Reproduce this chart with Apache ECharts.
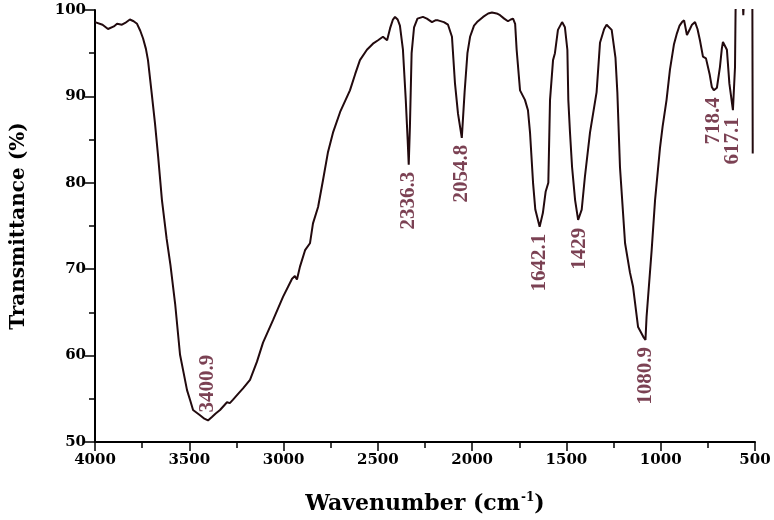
<!DOCTYPE html>
<html>
<head>
<meta charset="utf-8">
<script src="https://cdn.jsdelivr.net/npm/echarts@6/dist/echarts.min.js"></script>
<style>
  html, body { margin: 0; padding: 0; background: #fff; }
  #chart { width: 774px; height: 520px; }
</style>
</head>
<body>
<div id="chart"></div>
<script>
// FTIR spectrum (wavenumber in cm-1, transmittance in %)
const wavenumbers = [
  4000, 3960, 3931, 3900, 3883, 3857, 3840, 3815, 3795, 3777, 3760, 3745, 3730, 3719,
  3700, 3682, 3665, 3645, 3620, 3600, 3575, 3549, 3530, 3512, 3495, 3480, 3443, 3420,
  3400.9, 3380, 3360, 3337, 3300, 3285, 3268, 3240, 3215, 3178, 3141, 3109, 3056, 3003,
  2955, 2940, 2929, 2913, 2886, 2860, 2844, 2817, 2791, 2765, 2738, 2700, 2648, 2620,
  2595, 2558, 2526, 2499, 2473, 2451, 2435, 2420, 2409, 2395, 2383, 2367, 2352, 2342,
  2336.3, 2330, 2321, 2308, 2290, 2261, 2240, 2213, 2195, 2181, 2150, 2128, 2107, 2091,
  2075, 2054.8, 2040, 2025, 2011, 1990, 1974, 1942, 1915, 1895, 1870, 1852, 1830, 1810,
  1795, 1783, 1772, 1764, 1746, 1720, 1704, 1693, 1677, 1665, 1642.1, 1625, 1610, 1596,
  1587, 1571, 1561, 1545, 1523, 1508, 1495, 1490, 1481, 1470, 1454, 1438, 1429, 1419,
  1402, 1375, 1340, 1322, 1300, 1287, 1260, 1240, 1230, 1216, 1189, 1163, 1147, 1120,
  1093, 1080.9, 1075, 1048, 1030, 1004, 990, 969, 951, 930, 914, 900, 887, 876,
  861, 845, 834, 818, 805, 792, 776, 760, 750, 740, 729, 718.4, 702, 686,
  676, 670, 660, 649, 636, 617.1, 606, 603, 598, 565, 562, 559, 514, 512
];
const transmittance = [
  98.6, 98.3, 97.8, 98.1, 98.4, 98.3, 98.5, 98.9, 98.7, 98.4, 97.6, 96.7, 95.5, 94.2,
  90.5, 86.9, 83.0, 78.0, 73.5, 70.5, 66.0, 60.1, 58.0, 56.0, 54.8, 53.7, 53.1, 52.7,
  52.5, 52.9, 53.3, 53.7, 54.6, 54.5, 54.9, 55.6, 56.2, 57.2, 59.3, 61.5, 64.1, 66.8,
  68.9, 69.2, 68.8, 70.3, 72.2, 73.0, 75.3, 77.2, 80.3, 83.5, 85.8, 88.2, 90.7, 92.6,
  94.2, 95.4, 96.1, 96.5, 96.9, 96.5, 97.9, 98.9, 99.2, 98.9, 98.2, 95.4, 89.6, 85.0,
  82.1, 86.5, 95.0, 98.0, 99.0, 99.2, 99.0, 98.6, 98.8, 98.8, 98.6, 98.3, 96.9, 91.5,
  88.0, 85.2, 90.5, 95.0, 96.9, 98.2, 98.6, 99.2, 99.6, 99.7, 99.6, 99.4, 99.0, 98.7,
  98.9, 99.0, 98.4, 95.4, 90.7, 89.6, 88.4, 85.8, 80.0, 76.9, 74.9, 76.5, 79.0, 80.0,
  89.6, 94.2, 95.0, 97.7, 98.6, 98.0, 95.4, 89.6, 85.8, 81.8, 78.0, 75.7, 75.6, 76.9,
  80.7, 85.8, 90.5, 96.2, 97.8, 98.3, 97.7, 94.5, 90.5, 81.8, 73.0, 69.6, 68.0, 63.3,
  62.2, 61.8, 64.5, 72.2, 78.0, 84.0, 86.5, 89.6, 93.1, 96.0, 97.3, 98.2, 98.6, 98.8,
  97.1, 97.8, 98.3, 98.6, 97.8, 96.5, 94.6, 94.4, 94.2, 92.5, 91.1, 90.7, 91.0, 93.4,
  95.5, 96.3, 96.2, 95.4, 91.5, 88.4, 93.4, 100, 101, 101, 99.4, 101, 101, 83.4
];

// labelled band minima
const peakLabels = ['3400.9', '2336.3', '2054.8', '1642.1', '1429', '1080.9', '718.4', '617.1'];
const peakWavenumbers = [3400.9, 2336.3, 2054.8, 1642.1, 1429, 1080.9, 718.4, 617.1];
const peakMinima = [52.5, 82.1, 85.2, 74.9, 75.6, 61.8, 90.7, 88.4];

const xTicks = { min: 500, max: 4000, step: 500 };
const yTicks = { min: 50, max: 100, step: 10 };

const chart = echarts.init(document.getElementById('chart'));

const tickFont = { fontFamily: 'DejaVu Serif', fontWeight: 'bold', fontSize: 15, color: '#000' };
const peakColor = '#5a1228';

const peakData = peakWavenumbers.map((wn, i) => {
  const item = { value: [wn, peakMinima[i]], name: peakLabels[i] };
  if (i === 0) {
    // the broad O-H band is labelled above its minimum
    item.label = { position: 'top', align: 'left', distance: 8 };
  }
  return item;
});

const option = {
  animation: false,
  grid: { left: 95, right: 19, top: 10, bottom: 78 },
  xAxis: {
    type: 'value',
    inverse: true,
    min: xTicks.min,
    max: xTicks.max,
    interval: xTicks.step,
    name: '{t|Wavenumber (cm}{s|-1}{t|)}',
    nameLocation: 'middle',
    nameGap: 50,
    nameTextStyle: {
      rich: {
        t: { fontFamily: 'DejaVu Serif', fontWeight: 'bold', fontSize: 22, color: '#000' },
        s: { fontFamily: 'DejaVu Serif', fontWeight: 'bold', fontSize: 12, color: '#000', verticalAlign: 'top', padding: [0, 0, 12, 1] }
      }
    },
    axisLine: { lineStyle: { color: '#000', width: 2 } },
    axisTick: { length: 9, lineStyle: { color: '#000', width: 1.5 } },
    minorTick: { show: true, splitNumber: 2, length: 6, lineStyle: { color: '#000', width: 1.5 } },
    axisLabel: Object.assign({ margin: 11, formatter: v => String(v) }, tickFont),
    splitLine: { show: false }
  },
  yAxis: {
    type: 'value',
    min: yTicks.min,
    max: yTicks.max,
    interval: yTicks.step,
    name: 'Transmittance (%)',
    nameLocation: 'middle',
    nameGap: 66,
    nameTextStyle: { fontFamily: 'DejaVu Serif', fontWeight: 'bold', fontSize: 20, color: '#000' },
    axisLine: { show: true, lineStyle: { color: '#000', width: 2 } },
    axisTick: { show: true, length: 10, lineStyle: { color: '#000', width: 1.5 } },
    minorTick: { show: true, splitNumber: 2, length: 6, lineStyle: { color: '#000', width: 1.5 } },
    axisLabel: Object.assign({ margin: 9, formatter: v => String(v) }, tickFont),
    splitLine: { show: false }
  },
  series: [
    {
      name: 'FTIR',
      type: 'line',
      data: wavenumbers.map((wn, i) => [wn, transmittance[i]]),
      showSymbol: false,
      clip: true,
      lineStyle: { color: '#220a0e', width: 2 },
      z: 3
    },
    {
      name: 'peaks',
      type: 'scatter',
      data: peakData,
      symbolSize: 0,
      silent: true,
      z: 4,
      label: {
        show: true,
        formatter: '{b}',
        position: 'bottom',
        distance: 7,
        rotate: 90,
        align: 'right',
        verticalAlign: 'middle',
        fontFamily: 'Liberation Serif',
        fontWeight: 'bold',
        fontSize: 21,
        color: peakColor
      }
    }
  ]
};

chart.setOption(option);
</script>
</body>
</html>
